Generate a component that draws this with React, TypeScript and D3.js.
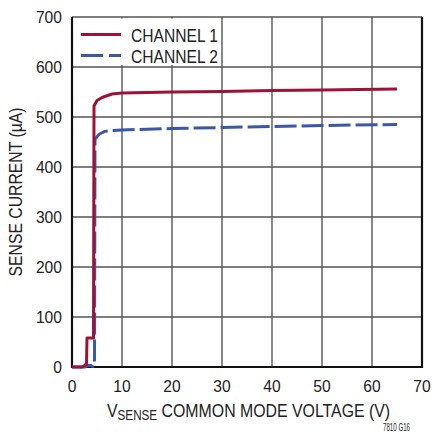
import { useRef, useEffect } from "react";
import * as d3 from "d3";

// [voltage V, current µA]
const channel1: [number, number][] = [
  [0, 0], [2, 0], [2.5, 3], [2.9, 6], [3.0, 58], [4.3, 58], [4.4, 522],
  [5, 533], [6, 539], [8, 546], [10, 548], [20, 550], [30, 551],
  [40, 553], [50, 554], [65, 556],
];
const channel2: [number, number][] = [
  [0, 0], [2.6, 0], [3, 3], [3.8, 3], [4.2, 1], [4.5, 10], [4.6, 456],
  [5.5, 466], [6.5, 471], [8, 473], [10, 474], [20, 477], [30, 479],
  [40, 481], [50, 483], [65, 485],
];
const xTicks = [0, 10, 20, 30, 40, 50, 60, 70];
const yTicks = [0, 100, 200, 300, 400, 500, 600, 700];
const legendLabels = ["CHANNEL 1", "CHANNEL 2"];

const RED = "#9e1238";
const BLUE = "#3b58a8";
const FONT = "'Liberation Sans Narrow', 'Arial Narrow', 'Liberation Sans', sans-serif";

export default function App() {
  const svgRef = useRef<SVGSVGElement>(null);

  useEffect(() => {
    if (!svgRef.current) return;
    const svg = d3.select(svgRef.current);
    svg.selectAll("*").remove();

    const left = 72, right = 422, top = 17, bottom = 367;
    const x = d3.scaleLinear().domain([0, 70]).range([left, right]);
    const y = d3.scaleLinear().domain([0, 700]).range([bottom, top]);

    svg.append("rect").attr("width", 434).attr("height", 434).attr("fill", "#fff");

    // grid
    const grid = svg.append("g").attr("stroke", "#555").attr("stroke-width", 1.4);
    xTicks.slice(1, -1).forEach((t) =>
      grid.append("line").attr("x1", x(t)).attr("x2", x(t)).attr("y1", top).attr("y2", bottom),
    );
    yTicks.slice(1).forEach((t) =>
      grid.append("line").attr("x1", left).attr("x2", right).attr("y1", y(t)).attr("y2", y(t)),
    );

    // legend background
    svg.append("rect")
      .attr("x", left + 1).attr("y", top + 1.5)
      .attr("width", x(29.6) - left - 1).attr("height", y(604) - top - 1.5)
      .attr("fill", "#fff");

    // frame
    svg.append("path")
      .attr("d", `M${left},${top}V${bottom}H${right}V${top}`)
      .attr("fill", "none").attr("stroke", "#111").attr("stroke-width", 2.2);

    const line = d3.line<[number, number]>().x((d) => x(d[0])).y((d) => y(d[1]));

    svg.append("path").datum(channel2).attr("d", line)
      .attr("fill", "none").attr("stroke", BLUE).attr("stroke-width", 3)
      .attr("stroke-dasharray", "22 5").attr("stroke-linejoin", "round");
    svg.append("path").datum(channel1).attr("d", line)
      .attr("fill", "none").attr("stroke", RED).attr("stroke-width", 3)
      .attr("stroke-linejoin", "round");

    // legend
    const colors = [RED, BLUE];
    legendLabels.forEach((lab, i) => {
      const ly = 34.5 + i * 21;
      svg.append("line").attr("x1", 81).attr("x2", 121).attr("y1", ly).attr("y2", ly)
        .attr("stroke", colors[i]).attr("stroke-width", 3)
        .attr("stroke-dasharray", i === 1 ? "22 6" : null);
      svg.append("text").attr("x", 131).attr("y", ly + 7)
        .attr("font-family", FONT).attr("font-size", 18).attr("fill", "#222")
        .attr("textLength", 87).attr("lengthAdjust", "spacingAndGlyphs").text(lab);
    });

    // tick labels
    xTicks.forEach((t) =>
      svg.append("text").attr("x", x(t)).attr("y", 392).attr("text-anchor", "middle")
        .attr("font-family", FONT).attr("font-size", 17).attr("fill", "#222")
        .attr("transform", `translate(${x(t)},0) scale(0.92,1) translate(${-x(t)},0)`).text(t),
    );
    yTicks.forEach((t) =>
      svg.append("text").attr("x", 62).attr("y", y(t) + 6).attr("text-anchor", "end")
        .attr("font-family", FONT).attr("font-size", 17).attr("fill", "#222")
        .attr("transform", `translate(62,0) scale(0.92,1) translate(-62,0)`).text(t),
    );

    // axis titles
    const xt = svg.append("text").attr("x", 107).attr("y", 417)
      .attr("font-family", FONT).attr("font-size", 19).attr("fill", "#222")
      .attr("transform", "translate(107,0) scale(0.835,1) translate(-107,0)");
    xt.append("tspan").text("V");
    xt.append("tspan").attr("font-size", 14).attr("dy", 3).text("SENSE");
    xt.append("tspan").attr("dy", -3).text(" COMMON MODE VOLTAGE (V)");

    svg.append("text").attr("transform", `translate(22,192) rotate(-90)`)
      .attr("text-anchor", "middle").attr("font-family", FONT).attr("font-size", 18)
      .attr("fill", "#222").attr("textLength", 169).attr("lengthAdjust", "spacingAndGlyphs")
      .text("SENSE CURRENT (µA)");

    svg.append("text").attr("x", 383).attr("y", 431)
      .attr("font-family", FONT).attr("font-size", 11).attr("fill", "#222")
      .attr("textLength", 27).attr("lengthAdjust", "spacingAndGlyphs").text("7810 G16");
  }, []);

  return (
    <svg ref={svgRef} width={434} height={434}
      style={{ position: "absolute", left: 0, top: 0 }} />
  );
}
